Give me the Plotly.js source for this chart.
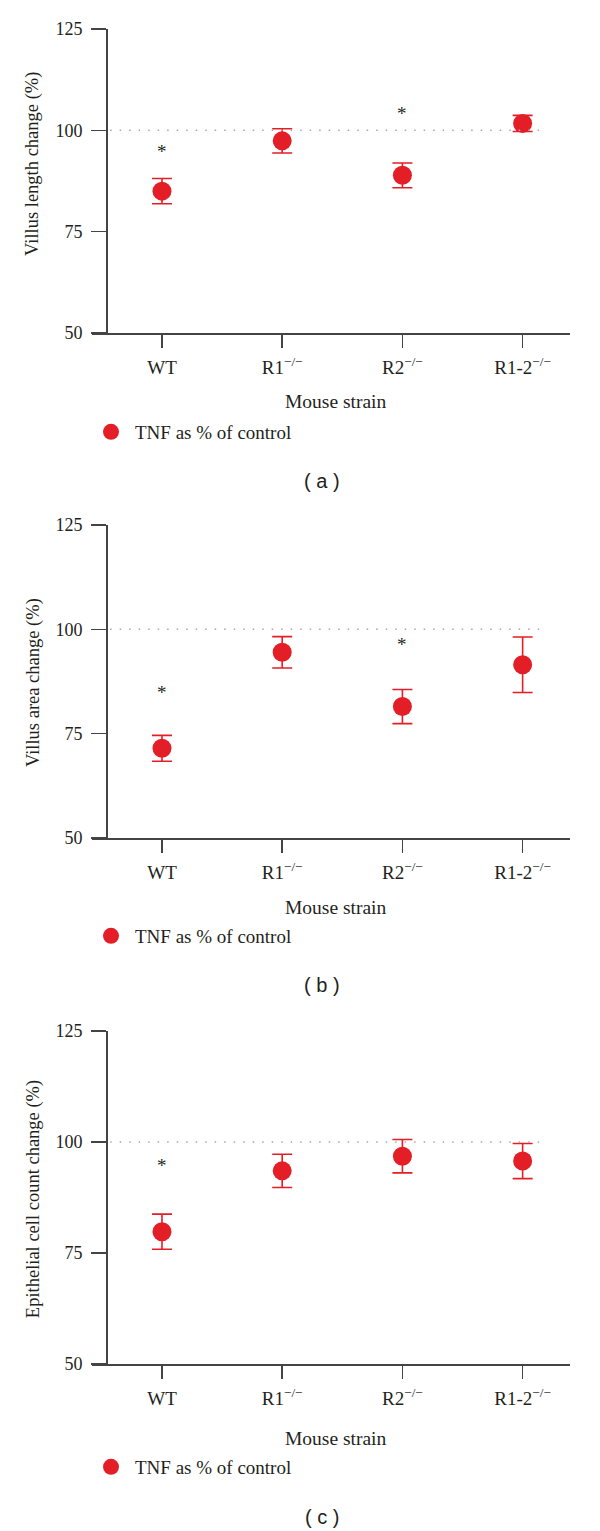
<!DOCTYPE html>
<html>
<head>
<meta charset="utf-8">
<script src="https://cdn.plot.ly/plotly-3.0.1.min.js"></script>
<style>html,body{margin:0;padding:0;background:#fff;}#chart{width:600px;height:1531px;}</style>
</head>
<body>
<div id="chart"></div>
<script>
// ---- data ----
const categories = ['WT', 'R1-/-', 'R2-/-', 'R1-2-/-'];
const tickLabels = ['WT', 'R1<sup>−/−</sup>', 'R2<sup>−/−</sup>', 'R1-2<sup>−/−</sup>'];
const seriesName = 'TNF as % of control';
const controlLevel = 100;
const yTicks = [50, 75, 100, 125];

const lengthMean = [85.0, 97.4, 88.9, 101.7];
const lengthErr  = [3.1, 3.0, 3.05, 2.0];
const lengthStarCats = ['WT', 'R2-/-'];
const lengthStarY    = [95.5, 105.0];

const areaMean = [71.5, 94.5, 81.5, 91.5];
const areaErr  = [3.1, 3.75, 4.1, 6.65];
const areaStarCats = ['WT', 'R2-/-'];
const areaStarY    = [85.7, 97.0];

const cellMean = [79.8, 93.5, 96.8, 95.7];
const cellErr  = [3.95, 3.75, 3.75, 3.95];
const cellStarCats = ['WT'];
const cellStarY    = [95.4];

// ---- layout helpers ----
const W = 600, H = 1531;
const RED = '#e41e26';
const AX = '#444';
const TXT = '#231f20';
const SERIF = '"Liberation Serif", "Times New Roman", serif';
const px = v => v / W;
const py = v => 1 - v / H;

const panels = [
  {mean: lengthMean, err: lengthErr, sc: lengthStarCats, sy: lengthStarY,
   title: 'Villus length change (%)', label: '( a )', top: 29, bottom: 333,
   titleFrac: 0.556, xt: 69, leg: 99, lab: 148},
  {mean: areaMean, err: areaErr, sc: areaStarCats, sy: areaStarY,
   title: 'Villus area change (%)', label: '( b )', top: 525, bottom: 838,
   titleFrac: 0.495, xt: 69, leg: 98, lab: 147},
  {mean: cellMean, err: cellErr, sc: cellStarCats, sy: cellStarY,
   title: 'Epithelial cell count change (%)', label: '( c )', top: 1031, bottom: 1364,
   titleFrac: 0.495, xt: 74, leg: 103, lab: 153}
];

const traces = [];
const layout = {
  width: W, height: H,
  margin: {l: 0, r: 0, t: 0, b: 0},
  paper_bgcolor: '#fff', plot_bgcolor: '#fff',
  font: {family: SERIF, size: 18, color: TXT},
  annotations: [], shapes: [],
  hovermode: false
};

panels.forEach((p, i) => {
  const n = i === 0 ? '' : String(i + 1);
  const xa = 'x' + n, ya = 'y' + n;
  const legName = 'legend' + n;
  traces.push({
    type: 'scatter', mode: 'markers',
    x: categories, y: p.mean,
    xaxis: xa, yaxis: ya,
    name: seriesName, legend: legName, showlegend: true,
    marker: {size: 19, color: RED, line: {width: 0}},
    error_y: {type: 'data', array: p.err, visible: true, color: RED, thickness: 1.6, width: 10}
  });
  layout['xaxis' + n] = {
    domain: [px(92), px(570)], anchor: ya,
    type: 'category', categoryorder: 'array', categoryarray: categories,
    range: [-0.582, 3.394],
    tickvals: categories, ticktext: tickLabels,
    showline: true, linecolor: AX, linewidth: 1.5,
    ticks: 'outside', ticklen: 13, tickwidth: 1.5, tickcolor: AX,
    ticklabelstandoff: 4,
    showgrid: false, zeroline: false, fixedrange: true,
    tickfont: {family: SERIF, size: 19, color: TXT}
  };
  layout['yaxis' + n] = {
    domain: [py(p.bottom), py(p.top)], anchor: 'free', position: px(106),
    range: [50, 125], tickvals: yTicks,
    showline: true, linecolor: AX, linewidth: 1.5,
    ticks: 'outside', ticklen: 15, tickwidth: 1.5, tickcolor: AX,
    ticklabelstandoff: 5,
    showgrid: false, zeroline: false, fixedrange: true,
    tickfont: {family: SERIF, size: 18, color: TXT}
  };
  layout[legName] = {
    x: px(87), y: py(p.bottom + p.leg), xanchor: 'left', yanchor: 'middle',
    itemwidth: 38,
    bgcolor: 'rgba(0,0,0,0)', font: {family: SERIF, size: 19, color: TXT}
  };
  // reference line at control level
  layout.shapes.push({
    type: 'line', xref: xa + ' domain', yref: ya,
    x0: 0.038, x1: 0.948, y0: controlLevel, y1: controlLevel,
    line: {color: '#a8a8a8', width: 1.5, dash: '1.5px,8px'}
  });
  // significance stars
  p.sc.forEach((c, k) => {
    layout.annotations.push({
      xref: xa, yref: ya, x: c, y: p.sy[k], text: '*', showarrow: false,
      xanchor: 'center', yanchor: 'middle', yshift: -3,
      font: {family: SERIF, size: 19, color: TXT}
    });
  });
  // y title
  layout.annotations.push({
    xref: 'paper', yref: ya + ' domain', x: px(33), y: p.titleFrac,
    text: p.title, textangle: -90, showarrow: false,
    xanchor: 'center', yanchor: 'middle',
    font: {family: SERIF, size: 18.5, color: TXT}
  });
  // x title
  layout.annotations.push({
    xref: 'paper', yref: 'paper', x: px(336), y: py(p.bottom + p.xt),
    text: 'Mouse strain', showarrow: false, xanchor: 'center', yanchor: 'middle',
    font: {family: SERIF, size: 19.5, color: TXT}
  });
  // panel label
  layout.annotations.push({
    xref: 'paper', yref: 'paper', x: px(322), y: py(p.bottom + p.lab),
    text: p.label, showarrow: false, xanchor: 'center', yanchor: 'middle',
    font: {family: '"Liberation Sans", Arial, sans-serif', size: 20, color: TXT}
  });
});

Plotly.newPlot('chart', traces, layout, {displayModeBar: false, staticPlot: true});
</script>
</body>
</html>
